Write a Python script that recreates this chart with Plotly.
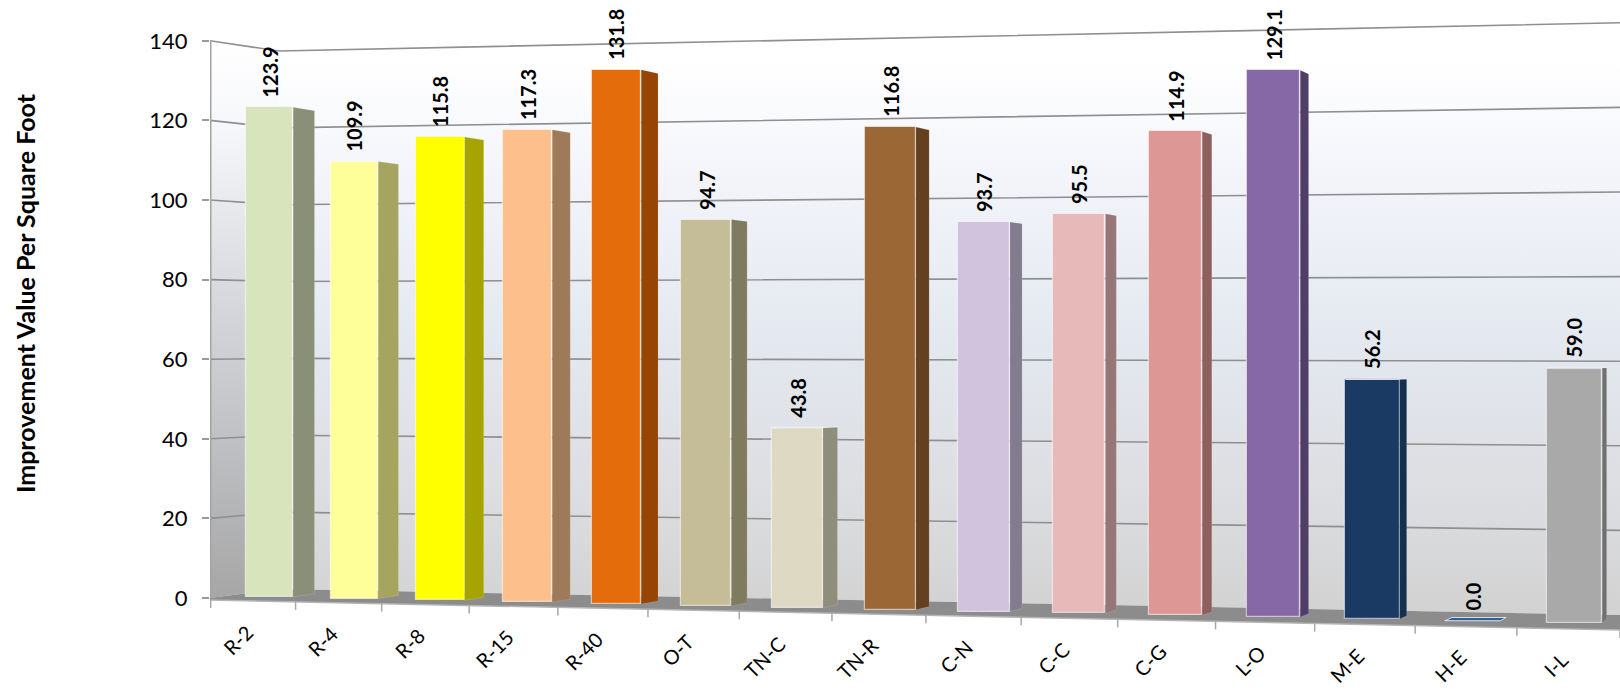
import plotly.graph_objects as go

categories = ["R-2", "R-4", "R-8", "R-15", "R-40", "O-T", "TN-C", "TN-R", "C-N", "C-C", "C-G", "L-O", "M-E", "H-E", "I-L"]
values = [123.9, 109.9, 115.8, 117.3, 131.8, 94.7, 43.8, 116.8, 93.7, 95.5, 114.9, 129.1, 56.2, 0.0, 59.0]
front_colors = ["#d7e4bc", "#ffff99", "#ffff00", "#fdbf8c", "#e46c0a", "#c4bd97", "#ddd9c3", "#9b6835",
                "#d1c3de", "#e8b9b9", "#dd9896", "#8668a6", "#1b3a63", "#1f497d", "#a9a9a9"]
side_colors = ["#8a9078", "#a5a55f", "#a6a400", "#9e7a58", "#964505", "#7f7b5f", "#8f8d7b", "#643f20",
               "#827c8e", "#967676", "#8d605e", "#503d68", "#14304f", "#14304f", "#707070"]
top_colors = ["#eef4e0", "#ffffcc", "#ffff80", "#fedfc5", "#f2b585", "#e2decb", "#f2f0e6", "#cdb39a",
              "#e8e1ee", "#f3dcdc", "#eeccca", "#c3b3d2", "#8d9cb1", "#2f5f96", "#dcdcdc"]
y_ticks = [0, 20, 40, 60, 80, 100, 120, 140]

W, H = 1620, 690
AX_L = 210.0
Y0, Y_SCALE = 598.0, 3.98
VX, VY, K = 1950.0, 367.0, 0.01286   # vanishing point of the chart's depth


def yv(py):
    """picture row -> value on the chart's left-hand axis"""
    return (Y0 - py) / Y_SCALE


def tick_x(i):
    return 210.7 + 84.2 * i + 0.65 * i * i


def floor_front(x):
    return 600 + (x - AX_L) * 0.0213


def wall_y(v, x):
    t = (x - 279.0) / (W - 279.0)
    return (589 - 3.843 * v) * (1 - t) + (615 - 4.23 * v) * t


def back(x, y):
    return x + K * (VX - x), y + K * (VY - y)


fig = go.Figure()

# --- walls and floor (primary axes) ---
fig.add_trace(go.Scatter(
    x=[AX_L, 279, 279, AX_L, AX_L],
    y=[yv(p) for p in [Y0 - Y_SCALE * 140, wall_y(140, 279), wall_y(0, 279), Y0, Y0 - Y_SCALE * 140]],
    mode="lines", line=dict(width=0), fill="toself",
    fillgradient=dict(type="vertical", start=yv(600), stop=yv(45),
                      colorscale=[[0, "#a6a6a6"], [0.5, "#d2d4d9"], [0.85, "#f6f7fa"], [1, "#ffffff"]]),
    hoverinfo="skip", showlegend=False))
fig.add_trace(go.Scatter(
    x=[279, W, W, 279, 279],
    y=[yv(p) for p in [wall_y(140, 279), wall_y(140, W), wall_y(0, W), wall_y(0, 279), wall_y(140, 279)]],
    mode="lines", line=dict(width=0), fill="toself",
    fillgradient=dict(type="vertical", start=yv(612), stop=yv(60),
                      colorscale=[[0, "#d2d2d2"], [0.2, "#dcdde0"], [0.5, "#e4e8f0"], [0.75, "#f1f3f9"], [1, "#ffffff"]]),
    hoverinfo="skip", showlegend=False))
fig.add_trace(go.Scatter(
    x=[AX_L, 279, W, W, AX_L],
    y=[yv(p) for p in [Y0, wall_y(0, 279), wall_y(0, W), floor_front(W), floor_front(AX_L)]],
    mode="lines", line=dict(width=0), fill="toself", fillcolor="#8c8c8c",
    hoverinfo="skip", showlegend=False))

# --- grid lines on both walls ---
gx, gy = [], []
for v in y_ticks[1:]:
    gx += [AX_L, 279, W, None]
    gy += [v, yv(wall_y(v, 279)), yv(wall_y(v, W)), None]
fig.add_trace(go.Scatter(x=gx, y=gy, mode="lines", line=dict(color="#8f8f8f", width=1.6),
                         hoverinfo="skip", showlegend=False))

# --- left edge, floor lip, category ticks ---
fig.add_trace(go.Scatter(x=[AX_L + 0.5, AX_L + 0.5], y=[0, 140], mode="lines",
                         line=dict(color="#a3a3a3", width=2), hoverinfo="skip", showlegend=False))
fig.add_trace(go.Scatter(x=[AX_L, W], y=[yv(floor_front(AX_L)), yv(floor_front(W))], mode="lines",
                         line=dict(color="#b5b5b5", width=1.5), hoverinfo="skip", showlegend=False))
tx, ty = [], []
for i in range(len(categories) + 1):
    x = tick_x(i)
    tx += [x, x, None]
    ty += [yv(floor_front(x)), yv(floor_front(x) + 8), None]
fig.add_trace(go.Scatter(x=tx, y=ty, mode="lines", line=dict(color="#a8a8a8", width=1.5),
                         hoverinfo="skip", showlegend=False))

# --- bars ---
lefts = [tick_x(i) + 35.5 - 0.4 * i for i in range(len(values))]
widths = [47.0 + 0.6 * i for i in range(len(values))]
bottoms = [596.7 + 1.85 * i for i in range(len(values))]
scales = [3.95 + 0.026 * i for i in range(len(values))]
tops = [b - v * s for b, v, s in zip(bottoms, values, scales)]

for i in range(len(values)):
    xl, xr, yb, yt = lefts[i], lefts[i] + widths[i], bottoms[i], tops[i]
    bxr, byt = back(xr, yt)
    _, byb = back(xr, yb)
    bxl, bylt = back(xl, yt)
    if bylt < yt:  # the top face only shows when it lies below eye level
        fig.add_trace(go.Scatter(
            x=[xl, xr, bxr, bxl, xl], y=[yv(yt), yv(yt), yv(byt), yv(bylt), yv(yt)],
            xaxis="x2", yaxis="y2", mode="lines", fill="toself", fillcolor=top_colors[i],
            line=dict(color="rgba(235,240,248,0.85)", width=1), hoverinfo="skip", showlegend=False))
    if values[i] > 0:
        fig.add_trace(go.Scatter(
            x=[xr, bxr, bxr, xr, xr], y=[yv(yt), yv(byt), yv(byb), yv(yb), yv(yt)],
            xaxis="x2", yaxis="y2", mode="lines", fill="toself", fillcolor=side_colors[i],
            line=dict(color="rgba(255,255,255,0.25)", width=0.5), hoverinfo="skip", showlegend=False))

fig.add_trace(go.Bar(
    x=[l + w / 2 for l, w in zip(lefts, widths)], width=widths,
    base=[yv(b) for b in bottoms],
    y=[v * s / Y_SCALE for v, s in zip(values, scales)],
    customdata=categories, xaxis="x2", yaxis="y2",
    marker=dict(color=front_colors, line=dict(color="rgba(255,255,255,0.55)", width=1.2)),
    hovertemplate="%{customdata}<extra></extra>", showlegend=False))

annotations = []
for i, c in enumerate(categories):
    annotations.append(dict(
        x=lefts[i] + widths[i] / 2, y=yv(tops[i]), xref="x2", yref="y2",
        text="<b>%.1f</b>" % values[i], textangle=-90, showarrow=False,
        xanchor="center", yanchor="bottom", yshift=8,
        font=dict(family="Lato", size=20, color="#000000")))
    mid = (tick_x(i) + tick_x(i + 1)) / 2 + 7
    annotations.append(dict(
        x=mid, y=yv(617 + (mid - 258) * 0.021), xref="x2", yref="y2",
        text=c, textangle=-45, showarrow=False, xanchor="right", yanchor="top",
        font=dict(family="Lato", size=20, color="#000000")))

annotations.append(dict(
    x=(25 - AX_L) / (W - AX_L), y=(H - 293) / H, xref="paper", yref="paper",
    text="<b>Improvement Value Per Square Foot</b>", textangle=-90, showarrow=False,
    xanchor="center", yanchor="middle", font=dict(family="Lato", size=25, color="#000000")))

y_range = [yv(H), yv(0)]
x_range = [AX_L, W]
fig.update_layout(
    width=W, height=H, autosize=False,
    margin=dict(l=AX_L, r=0, t=0, b=0, pad=0),
    paper_bgcolor="#ffffff", plot_bgcolor="rgba(0,0,0,0)",
    showlegend=False, bargap=0,
    xaxis=dict(range=x_range, visible=False, fixedrange=True),
    xaxis2=dict(range=x_range, visible=False, overlaying="x", fixedrange=True),
    yaxis=dict(
        range=y_range, tickmode="array", tickvals=y_ticks, ticktext=[str(t) for t in y_ticks],
        ticks="outside", ticklen=7, tickwidth=1.5, tickcolor="#9a9a9a", ticklabelstandoff=10,
        showgrid=False, zeroline=False, showline=False, fixedrange=True,
        tickfont=dict(family="Lato", size=22, color="#000000")),
    yaxis2=dict(range=y_range, visible=False, overlaying="y", fixedrange=True),
    annotations=annotations,
)

fig.write_html("out.html", config={"displayModeBar": False},
               post_script="document.body.style.margin='0';document.body.style.overflow='hidden';")
